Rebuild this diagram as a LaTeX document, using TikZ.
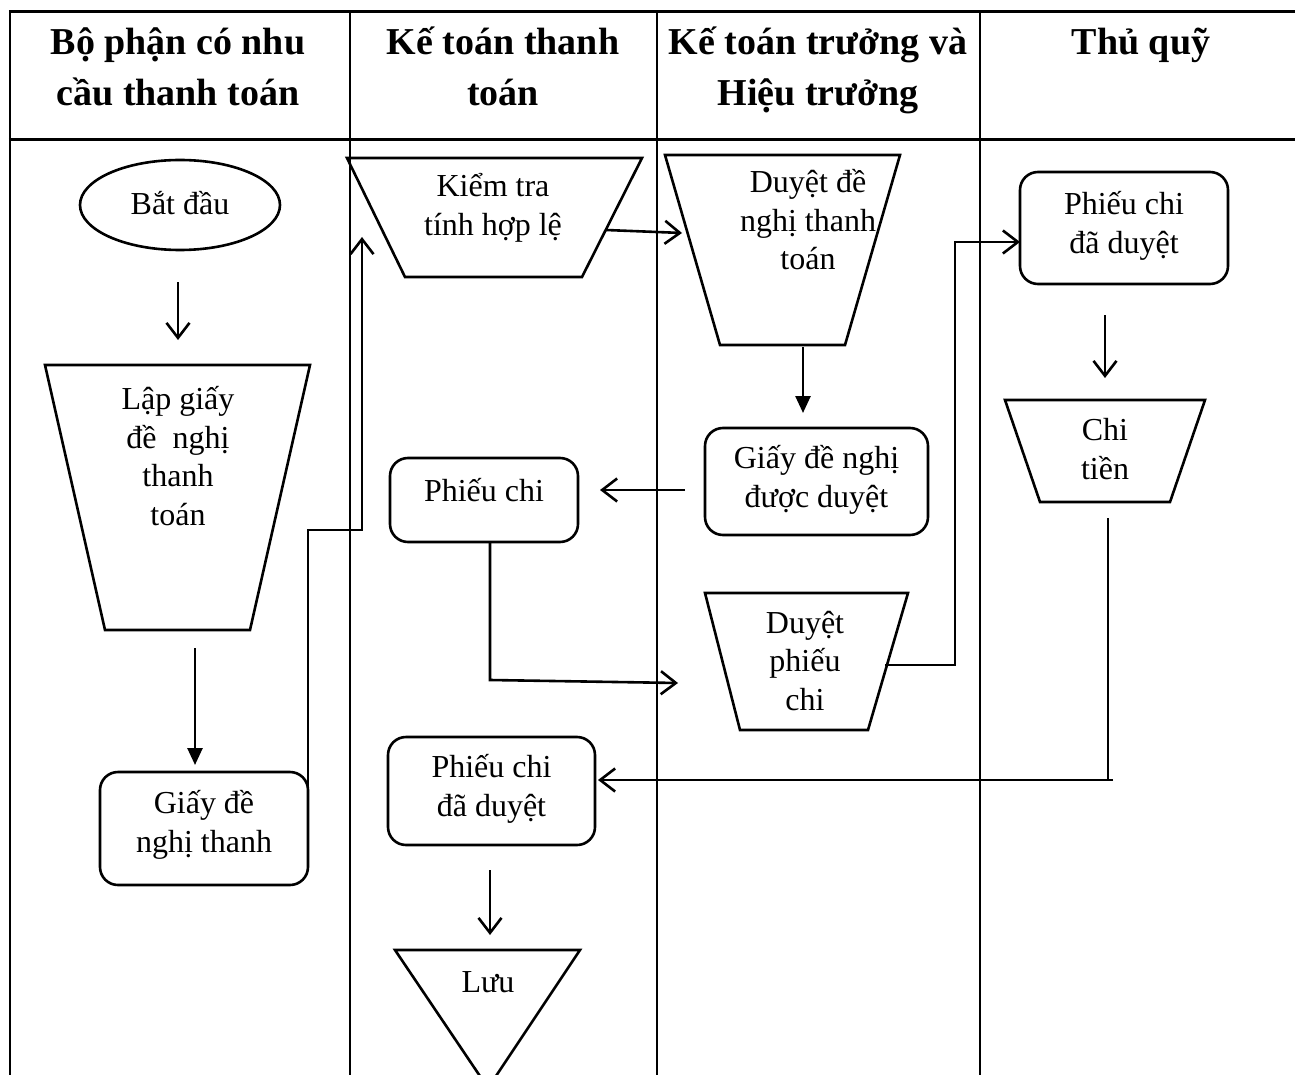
\documentclass[tikz,border=0pt]{standalone}
\usepackage{fontspec}
\setmainfont{Liberation Serif}
\usetikzlibrary{arrows.meta,shapes.geometric}
\begin{document}
\begin{tikzpicture}[x=1pt,y=-1pt,
  gridline/.style={line width=2.4pt},
  shp/.style={draw,line width=2.6pt,line join=miter},
  rbox/.style={draw,line width=2.6pt,rounded corners=18pt},
  txt/.style={font=\fontsize{32}{38.5}\selectfont,align=center,inner sep=0pt},
  hdr/.style={font=\fontsize{38}{51}\selectfont\bfseries,anchor=base,inner sep=0pt},
  oarr/.style={line width=2.6pt,-{Straight Barb[length=15pt,width=23pt,line width=2.6pt]}},
  farr/.style={line width=2.6pt,-{Triangle[length=17pt,width=15pt]}},
  conn/.style={line width=2.6pt}]
\useasboundingbox (0,0) rectangle (1295,1075);
\fill[white] (0,0) rectangle (1295,1075);

% table
\draw[gridline,line width=3pt] (8.8,12) -- (1295,12);
\draw[gridline,line width=3pt] (8.8,140) -- (1295,140);
\foreach \xx in {10,350,657,980} \draw[gridline] (\xx,12) -- (\xx,1075);

% headers
\node[hdr] (h1a) at (178,55) {Bộ phận có nhu};
\node[hdr] (h1b) at (178,106) {cầu thanh toán};
\node[hdr] (h2a) at (503,55) {Kế toán thanh};
\node[hdr] (h2b) at (503,106) {toán};
\node[hdr] (h3a) at (818,55) {Kế toán trưởng và};
\node[hdr] (h3b) at (818,106) {Hiệu trưởng};
\node[hdr] (h4) at (1141,55) {Thủ quỹ};

% column 1
\node[draw,ellipse,line width=2.6pt,minimum width=200pt,minimum height=90pt] (start) at (180,205) {};
\node[txt] (startt) at (180,203) {Bắt đầu};
\draw[shp] (45,365) -- (310,365) -- (250,630) -- (105,630) -- cycle;
\node[txt] (lap) at (178,456) {Lập giấy\\đề\ \ nghị\\thanh\\toán};
\node[rbox,minimum width=208pt,minimum height=113pt] (giay) at (204,828.5) {};
\node[txt] (giayt) at (204,825) {Giấy đề\\nghị thanh};

% column 2
\draw[shp] (347,158) -- (642,158) -- (582,277) -- (405,277) -- cycle;
\node[txt] (kiem) at (493,208) {Kiểm tra\\tính hợp lệ};
\node[rbox,minimum width=188pt,minimum height=84pt] (pc) at (484,500) {};
\node[txt] (pct) at (484,490) {Phiếu chi};
\node[rbox,minimum width=207pt,minimum height=108pt] (pcd) at (491.5,791) {};
\node[txt] (pcdt) at (491.5,789) {Phiếu chi\\đã duyệt};
\draw[shp] (395,950) -- (580,950) -- (488,1088) -- cycle;
\node[txt] (luu) at (488,982) {Lưu};

% column 3
\draw[shp] (665,155) -- (900,155) -- (845,345) -- (720,345) -- cycle;
\node[txt] (duyet) at (808,220) {Duyệt đề\\nghị thanh\\toán};
\node[rbox,minimum width=223pt,minimum height=107pt] (gdd) at (816.5,481.5) {};
\node[txt] (gddt) at (816.5,480) {Giấy đề nghị\\được duyệt};
\draw[shp] (705,593) -- (908,593) -- (868,730) -- (740,730) -- cycle;
\node[txt] (dpc) at (805,661) {Duyệt\\phiếu\\chi};

% column 4
\node[rbox,minimum width=208pt,minimum height=112pt] (pcd4) at (1124,228) {};
\node[txt] (pcd4t) at (1124,226) {Phiếu chi\\đã duyệt};
\draw[shp] (1005,400) -- (1205,400) -- (1170,502) -- (1040,502) -- cycle;
\node[txt] (chi) at (1105,449) {Chi\\tiền};

% connector end points
\coordinate (a1s) at (178,282); \coordinate (a1e) at (178,340);
\coordinate (a2s) at (195,648); \coordinate (a2e) at (195,765);
\coordinate (a3s) at (308,830); \coordinate (a3e) at (362,237);
\coordinate (a4s) at (606,230); \coordinate (a4e) at (682,233);
\coordinate (a5s) at (803,347); \coordinate (a5e) at (803,413);
\coordinate (a6s) at (685,490); \coordinate (a6e) at (600,490);
\coordinate (a7s) at (490,542); \coordinate (a7e) at (678,683);
\coordinate (a8s) at (885,665); \coordinate (a8e) at (1020,242);
\coordinate (a9s) at (1105,315); \coordinate (a9e) at (1105,378);
\coordinate (a10s) at (1108,518); \coordinate (a10e) at (598,780);
\coordinate (a11s) at (490,870); \coordinate (a11e) at (490,935);

\draw[oarr] (a1s) -- (a1e);
\draw[farr] (a2s) -- (a2e);
\draw[oarr] (a3s) -- (308,530) -- (362,530) -- (a3e);
\draw[oarr] (a4s) -- (a4e);
\draw[farr] (a5s) -- (a5e);
\draw[oarr] (a6s) -- (a6e);
\draw[oarr] (a7s) -- (490,680) -- (a7e);
\draw[oarr] (a8s) -- (955,665) -- (955,242) -- (a8e);
\draw[oarr] (a9s) -- (a9e);
\draw[conn] (a10s) -- (1108,780);
\draw[oarr] (1113,780) -- (a10e);
\draw[oarr] (a11s) -- (a11e);
\end{tikzpicture}
\end{document}
